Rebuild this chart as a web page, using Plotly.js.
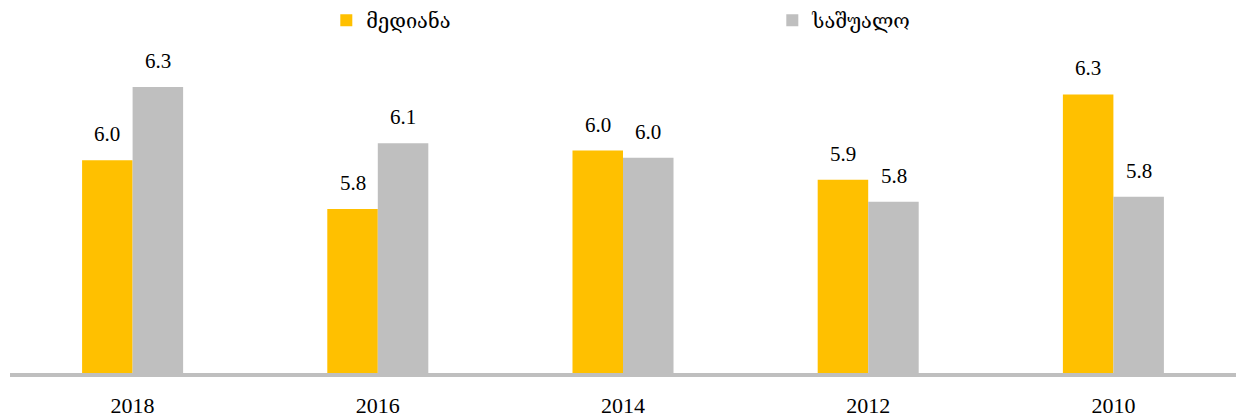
<!DOCTYPE html>
<html>
<head>
<meta charset="utf-8">
<script src="https://cdn.plot.ly/plotly-3.0.1.min.js"></script>
<style>html,body{margin:0;padding:0;background:#fff;}#chart{width:1236px;height:419px;}</style>
</head>
<body>
<div id="chart"></div>
<script>
const categories = ["2018", "2016", "2014", "2012", "2010"];
const seriesNames = ["მედიანა", "საშუალო"];
const medianValues = [6.00, 5.80, 6.04, 5.92, 6.27];
const meanValues = [6.30, 6.07, 6.01, 5.83, 5.85];

const colors = ["#FFC000", "#BFBFBF"];
const serif = "'Liberation Serif', 'DejaVu Serif', serif";

const series = [medianValues, meanValues];
const traces = series.map((vals, s) => ({
  type: "bar",
  name: seriesNames[s],
  x: categories,
  y: vals,
  marker: { color: colors[s] },
  hoverinfo: "skip"
}));

const annotations = [];
series.forEach((vals, s) => {
  vals.forEach((v, i) => {
    annotations.push({
      x: i, y: v, xref: "x", yref: "y",
      text: v.toFixed(1), showarrow: false,
      xshift: s === 0 ? -25.3 : 25.3, yshift: 12, yanchor: "bottom",
      font: { family: serif, size: 21, color: "#000" }
    });
  });
});

const layout = {
  width: 1236, height: 419,
  margin: { l: 10, r: 0, t: 0, b: 46 },
  paper_bgcolor: "#fff", plot_bgcolor: "#fff",
  barmode: "group", bargap: 0.588, bargroupgap: 0,
  showlegend: true,
  legend: {
    orientation: "h", x: 0.258, xanchor: "left", y: 0.946, yanchor: "middle",
    entrywidth: 401, entrywidthmode: "pixels",
    font: { family: serif, size: 20, color: "#000" },
    traceorder: "normal"
  },
  xaxis: {
    type: "category", range: [-0.5, 4.5], showline: true, linecolor: "#BFBFBF", linewidth: 4,
    showgrid: false, zeroline: false, ticks: "",
    tickfont: { family: serif, size: 22, color: "#000" },
    ticklabelstandoff: 10
  },
  yaxis: { range: [5.128, 6.657], visible: false, showgrid: false, zeroline: false },
  annotations: annotations
};

Plotly.newPlot("chart", traces, layout, { displayModeBar: false, staticPlot: true });
</script>
</body>
</html>
